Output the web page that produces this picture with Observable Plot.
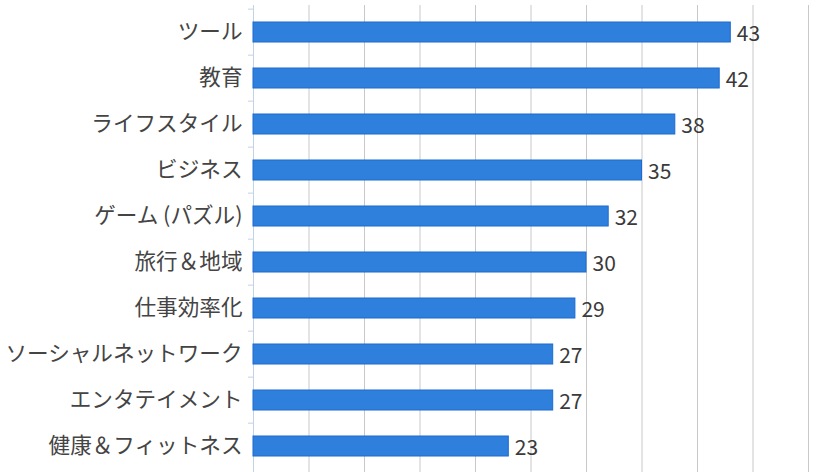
<!DOCTYPE html>
<html>
<head>
<meta charset="utf-8">
<script src="https://cdn.jsdelivr.net/npm/d3@7"></script>
<script src="https://cdn.jsdelivr.net/npm/@observablehq/plot@0.6"></script>
<style>
  html, body { margin: 0; padding: 0; background: #fff; }
  #chart { width: 817px; height: 472px; overflow: hidden; }
</style>
</head>
<body>
<div id="chart"></div>
<script>
const categories = ["ツール", "教育", "ライフスタイル", "ビジネス", "ゲーム (パズル)", "旅行＆地域", "仕事効率化", "ソーシャルネットワーク", "エンタテイメント", "健康＆フィットネス"];
const values = [43, 42, 38, 35, 32, 30, 29, 27, 27, 23];
const gridTicks = [5, 10, 15, 20, 25, 30, 35, 40, 45, 50];

const data = categories.map((c, i) => ({category: c, value: values[i]}));

const W = 817, H = 472, mTop = 5, mBottom = 0;
const bandStep = (H - mTop - mBottom) / categories.length;

const chart = Plot.plot({
  width: W,
  height: H,
  marginLeft: 253,
  marginRight: 9,
  marginTop: mTop,
  marginBottom: mBottom,
  style: {fontFamily: "'Noto Sans CJK JP', 'Noto Sans', sans-serif", fontSize: "21px", color: "#333", background: "#fff"},
  x: {domain: [0, 50], axis: null},
  y: {domain: categories, paddingInner: 0.57, paddingOuter: 0.285, axis: null},
  marks: [
    Plot.ruleX(gridTicks, {stroke: "#c8c8c8", strokeWidth: 1}),
    Plot.ruleY(categories, {y: d => d, dy: -bandStep / 2, x1: -0.45, x2: 0, stroke: "#c3d3e6", strokeWidth: 1}),
    Plot.ruleX([0], {stroke: "#c3d3e6", strokeWidth: 1}),
    Plot.barX(data, {y: "category", x: "value", fill: "#2f7fdc", stroke: "#1c6bd0", strokeWidth: 1}),
    Plot.axisY({tickSize: 0, tickPadding: 11, fontSize: 21.6, fill: "#444", label: null}),
    Plot.text(data, {y: "category", x: "value", text: d => String(d.value), textAnchor: "start", dx: 6, dy: 2, fontSize: 21, fill: "#3a3a3a"})
  ]
});
document.getElementById("chart").appendChild(chart);
</script>
</body>
</html>
